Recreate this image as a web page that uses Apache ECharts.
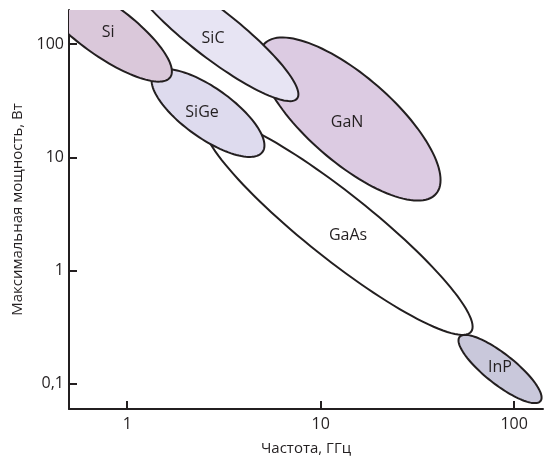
<!DOCTYPE html>
<html>
<head>
<meta charset="utf-8">
<script src="https://cdn.jsdelivr.net/npm/echarts@6/dist/echarts.min.js"></script>
<style>
  html, body { margin: 0; padding: 0; background: #fff; }
  #chart { width: 545px; height: 462px; }
</style>
</head>
<body>
<div id="chart"></div>
<script>
// draw order: bottom first
let materials = ['InP', 'GaAs', 'GaN', 'SiC', 'SiGe', 'Si'];

// ellipse centre (GHz, W)
let centerFreq  = [84.56, 12.29, 14.18, 2.744, 2.616, 0.7497];
let centerPower = [0.1353, 2.476, 21.8, 127.8, 24.63, 137.3];
// end of the long axis
let majorFreq   = [136.9, 59.88, 39.48, 7.554, 5.006, 1.667];
let majorPower  = [0.07058, 0.2882, 4.765, 33.07, 11.17, 50.9];
// end of the short axis
let minorFreq   = [75.68, 9.632, 10.14, 2.301, 2.202, 0.6248];
let minorPower  = [0.1064, 1.466, 11.26, 87.1, 16.27, 89.6];
// where the name sits
let labelFreq   = [84.56, 13.85, 13.69, 2.777, 2.436, 0.7957];
let labelPower  = [0.1409, 2.062, 20.51, 113.2, 25.14, 127.8];

let fills = ['#c9c8db', '#ffffff', '#dccbe2', '#e7e4f3', '#dedbee', '#dac8da'];

let xTicks = [1, 10, 100];
let yTicks = [0.1, 1, 10, 100];

let ink = '#231f20';
let font = '"Open Sans", "Noto Sans", sans-serif';

let chartDom = document.getElementById('chart');
let myChart = echarts.init(chartDom);

let seriesData = materials.map((name, i) => [
    centerFreq[i], centerPower[i],
    majorFreq[i], majorPower[i],
    minorFreq[i], minorPower[i],
    labelFreq[i], labelPower[i]
]);

function renderEllipse(params, api) {
    let i = params.dataIndex;
    let cx = Math.log10(api.value(0)), cy = Math.log10(api.value(1));
    let ux = Math.log10(api.value(2)) - cx, uy = Math.log10(api.value(3)) - cy;
    let vx = Math.log10(api.value(4)) - cx, vy = Math.log10(api.value(5)) - cy;
    let pts = [];
    for (let k = 0; k < 120; k++) {
        let t = k / 120 * Math.PI * 2;
        let lx = cx + ux * Math.cos(t) + vx * Math.sin(t);
        let ly = cy + uy * Math.cos(t) + vy * Math.sin(t);
        pts.push(api.coord([Math.pow(10, lx), Math.pow(10, ly)]));
    }
    let lp = api.coord([api.value(6), api.value(7)]);
    return {
        type: 'group',
        children: [
            {
                type: 'polygon',
                shape: { points: pts },
                style: { fill: fills[i], stroke: ink, lineWidth: 2 }
            },
            {
                type: 'text',
                x: lp[0],
                y: lp[1],
                style: {
                    text: materials[i],
                    fill: ink,
                    font: '16px ' + font,
                    align: 'center',
                    verticalAlign: 'middle'
                }
            }
        ]
    };
}

let option = {
    animation: false,
    backgroundColor: '#fff',
    grid: { left: 69, right: 2, top: 10, bottom: 53 },
    xAxis: {
        type: 'log',
        logBase: 10,
        min: 0.5,
        max: 141,
        name: 'Частота, ГГц',
        nameLocation: 'middle',
        nameGap: 32,
        nameTextStyle: { color: ink, fontSize: 15, fontFamily: font },
        axisLine: { lineStyle: { color: ink, width: 2 } },
        axisTick: { inside: true, length: 8, customValues: xTicks, lineStyle: { color: ink, width: 2 } },
        axisLabel: { customValues: xTicks, color: ink, fontSize: 16, fontFamily: font, margin: 7 },
        splitLine: { show: false }
    },
    yAxis: {
        type: 'log',
        logBase: 10,
        min: 0.06,
        max: 200,
        name: 'Максимальная мощность, Вт',
        nameLocation: 'middle',
        nameGap: 37,
        nameTextStyle: { color: ink, fontSize: 15, fontFamily: font },
        axisLine: { lineStyle: { color: ink, width: 2 } },
        axisTick: { inside: true, length: 8, customValues: yTicks, lineStyle: { color: ink, width: 2 } },
        axisLabel: {
            customValues: yTicks,
            color: ink, fontSize: 16, fontFamily: font, margin: 5,
            formatter: v => String(v).replace('.', ',')
        },
        splitLine: { show: false }
    },
    series: [
        {
            type: 'custom',
            clip: true,
            renderItem: renderEllipse,
            data: seriesData
        }
    ]
};

myChart.setOption(option);
</script>
</body>
</html>
